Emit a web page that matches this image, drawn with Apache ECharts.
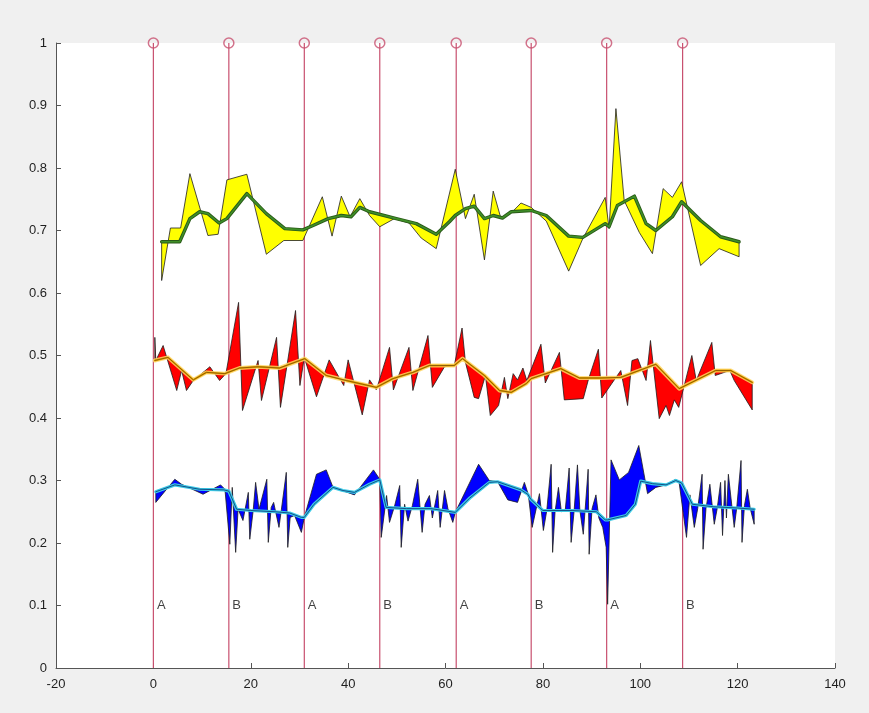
<!DOCTYPE html>
<html><head><meta charset="utf-8">
<script src="https://cdn.jsdelivr.net/npm/echarts@6/dist/echarts.min.js"></script>
<style>html,body{margin:0;padding:0;background:#f0f0f0}#chart{width:869px;height:713px}</style>
</head><body><div id="chart"></div>
<script>
// ---- axis settings ----
const xMin = -20, xMax = 140, xStep = 20;
const yMin = 0, yMax = 1, yStep = 0.1;

// ---- event markers ----
const markerX = [0, 15.5, 31.0, 46.5, 62.2, 77.6, 93.1, 108.7];
const markerLabels = ['A', 'B', 'A', 'B', 'A', 'B', 'A', 'B'];
const markerTop = 1;
const labelY = 0.1;

// ---- yellow group ----
const yellowRaw = [[1.7,0.620],[3.5,0.704],[5.6,0.704],[7.5,0.791],[11.2,0.692],[13.3,0.694],[15.1,0.781],[19.2,0.790],[23.2,0.662],[26.8,0.684],[30.7,0.684],[34.7,0.754],[36.7,0.691],[38.6,0.755],[40.4,0.722],[42.4,0.751],[44.4,0.724],[46.5,0.706],[49.5,0.719],[52.5,0.712],[55.0,0.688],[58.1,0.671],[62.0,0.798],[64.1,0.719],[65.9,0.758],[68.0,0.653],[69.8,0.763],[71.4,0.719],[73.5,0.728],[75.5,0.744],[77.6,0.737],[80.7,0.715],[85.3,0.635],[88.2,0.687],[92.8,0.753],[93.6,0.703],[95.0,0.895],[96.7,0.748],[99.8,0.697],[102.5,0.663],[104.7,0.767],[106.6,0.753],[108.5,0.778],[112.4,0.644],[116.2,0.671],[120.3,0.658]];
const yellowSmooth = [[1.7,0.682],[5.4,0.682],[7.5,0.719],[9.5,0.730],[11.2,0.727],[13.5,0.712],[15.1,0.719],[19.2,0.759],[23.2,0.727],[27.0,0.703],[30.7,0.701],[32.8,0.708],[35.9,0.719],[38.6,0.724],[40.6,0.722],[42.4,0.737],[44.4,0.730],[49.9,0.719],[54.0,0.711],[58.1,0.694],[60.8,0.714],[62.0,0.724],[64.1,0.735],[65.9,0.739],[68.0,0.719],[69.8,0.724],[71.7,0.720],[73.5,0.730],[77.6,0.732],[80.7,0.724],[85.3,0.691],[88.2,0.689],[92.8,0.711],[93.6,0.706],[95.3,0.740],[98.8,0.755],[101.2,0.711],[103.2,0.700],[106.6,0.722],[108.5,0.746],[112.4,0.716],[116.5,0.690],[120.3,0.682]];

// ---- red group ----
const redRaw = [[0.3,0.529],[0.5,0.492],[2.0,0.516],[4.8,0.444],[5.8,0.476],[6.8,0.444],[8.2,0.460],[11.6,0.482],[13.6,0.460],[14.9,0.471],[17.5,0.585],[18.3,0.412],[21.5,0.492],[22.2,0.428],[25.3,0.529],[26.1,0.417],[29.2,0.572],[30.1,0.452],[31.0,0.497],[33.5,0.434],[36.1,0.493],[39.1,0.452],[40.0,0.493],[42.9,0.405],[44.4,0.461],[45.8,0.445],[48.5,0.513],[49.3,0.445],[52.5,0.513],[53.3,0.444],[56.4,0.532],[57.3,0.449],[59.8,0.482],[61.8,0.484],[63.4,0.544],[64.1,0.489],[65.9,0.433],[66.8,0.431],[68.2,0.468],[69.2,0.404],[70.9,0.420],[72.1,0.465],[72.8,0.431],[73.9,0.471],[74.8,0.461],[75.9,0.480],[76.7,0.460],[79.6,0.518],[80.5,0.456],[83.4,0.505],[84.4,0.429],[88.3,0.431],[89.4,0.463],[91.4,0.510],[92.1,0.432],[96.0,0.476],[97.4,0.420],[98.3,0.492],[99.5,0.495],[101.2,0.460],[102.1,0.524],[103.9,0.399],[105.3,0.420],[106.0,0.404],[107.0,0.429],[107.9,0.417],[110.6,0.500],[111.5,0.460],[114.7,0.521],[115.4,0.468],[118.4,0.476],[119.3,0.460],[123.0,0.413]];
const redSmooth = [[0.3,0.492],[3.0,0.497],[8.2,0.461],[10.9,0.473],[14.7,0.471],[17.7,0.480],[21.5,0.482],[25.9,0.480],[31.1,0.495],[35.5,0.468],[39.6,0.460],[43.0,0.454],[45.8,0.449],[49.2,0.463],[53.3,0.473],[56.7,0.484],[61.8,0.484],[63.5,0.495],[68.0,0.468],[71.1,0.444],[73.5,0.441],[76.6,0.455],[77.6,0.463],[83.7,0.479],[87.5,0.464],[91.6,0.464],[96.0,0.465],[103.2,0.486],[108.0,0.447],[115.5,0.476],[118.6,0.476],[123.0,0.457]];

// ---- blue group ----
const blueRaw = [[0.5,0.265],[4.4,0.302],[5.8,0.294],[10.2,0.278],[13.8,0.293],[14.7,0.286],
[15.7,0.198],[16.2,0.289],[16.9,0.185],[17.4,0.254],[18.4,0.236],[19.5,0.281],[19.8,0.206],[20.5,0.252],[21.0,0.297],[21.7,0.254],[23.3,0.302],[23.6,0.201],[24.2,0.257],[24.7,0.265],[25.8,0.225],[26.3,0.254],[27.3,0.313],[27.6,0.193],[28.1,0.241],[29.0,0.244],[30.4,0.217],[31.0,0.241],
[33.5,0.310],[35.5,0.317],[36.9,0.289],[41.3,0.277],[45.2,0.317],[46.5,0.302],
[46.8,0.209],[47.9,0.276],[48.5,0.233],[49.5,0.258],[50.6,0.292],[50.9,0.193],[51.6,0.262],[52.3,0.235],[53.2,0.260],[54.3,0.302],[55.2,0.217],[55.8,0.262],[56.7,0.276],[57.3,0.240],[58.4,0.284],[58.9,0.225],[59.8,0.284],[60.5,0.255],[61.5,0.233],[62.0,0.249],
[66.8,0.326],[69.0,0.300],[70.7,0.298],[72.8,0.269],[74.8,0.265],[76.2,0.297],[77.0,0.278],
[77.8,0.225],[79.3,0.279],[80.1,0.220],[80.8,0.252],[81.7,0.326],[82.0,0.185],[82.5,0.250],[83.2,0.289],[83.8,0.250],[84.6,0.253],[85.4,0.320],[85.8,0.201],[86.4,0.250],[87.1,0.325],[87.6,0.252],[88.3,0.214],[89.3,0.318],[89.5,0.182],[90.1,0.255],[90.9,0.277],[91.5,0.240],[92.3,0.225],[93.0,0.193],[93.3,0.102],
[94.0,0.333],[95.7,0.301],[97.6,0.313],[99.7,0.356],[101.5,0.279],[103.2,0.289],[105.3,0.293],[107.3,0.302],[108.0,0.296],
[109.5,0.209],[110.2,0.277],[111.1,0.225],[111.8,0.255],[112.7,0.310],[112.9,0.190],[113.5,0.255],[114.3,0.294],[115.2,0.230],[115.8,0.255],[116.5,0.297],[116.9,0.212],[117.4,0.300],[117.7,0.240],[118.1,0.310],[119.3,0.225],[119.8,0.255],[120.7,0.332],[120.9,0.201],[121.4,0.260],[122.0,0.286],[122.6,0.255],[123.4,0.230]];
const blueSmooth = [[0.5,0.282],[4.4,0.293],[9.5,0.286],[14.5,0.285],[15.5,0.283],[17.1,0.254],[20.0,0.252],[25.0,0.250],[28.0,0.248],[30.4,0.241],[31.0,0.241],[33.0,0.262],[36.9,0.289],[38.9,0.284],[41.3,0.281],[44.4,0.294],[46.5,0.301],[47.8,0.257],[52.0,0.255],[57.0,0.255],[62.0,0.249],[65.0,0.272],[69.0,0.297],[70.7,0.298],[75.5,0.285],[76.9,0.278],[77.5,0.270],[80.0,0.252],[86.0,0.252],[91.0,0.250],[92.8,0.237],[93.3,0.237],[97.1,0.244],[99.0,0.262],[100.1,0.299],[102.5,0.295],[105.3,0.293],[107.3,0.300],[108.5,0.296],[110.7,0.262],[115.0,0.258],[120.0,0.256],[123.4,0.254]];

const FONT = '"Liberation Sans", Arial, sans-serif';
const MARK = '#c8506f';

function band(raw, smooth, fill) {
  return {
    type: 'custom', silent: true, z: 3, data: [[raw[0][0], raw[0][1]]],
    renderItem: function (params, api) {
      const pts = raw.map(p => api.coord(p)).concat(smooth.slice().reverse().map(p => api.coord(p)));
      return { type: 'polygon', shape: { points: pts }, style: { fill: fill, stroke: '#1e1e1e', lineWidth: 0.8, lineJoin: 'miter' } };
    }
  };
}
function smoothLine(data, color, width, z, opacity) {
  return { type: 'line', data: data, symbol: 'none', silent: true, z: z,
    lineStyle: { color: color, width: width, opacity: opacity == null ? 1 : opacity, join: 'round', cap: 'round' } };
}

const chart = echarts.init(document.getElementById('chart'), null, { renderer: 'canvas' });
chart.setOption({
  backgroundColor: '#f0f0f0',
  animation: false,
  grid: { left: 56, right: 34, top: 43, bottom: 45, show: true, backgroundColor: '#ffffff', borderWidth: 0 },
  xAxis: {
    type: 'value', min: xMin, max: xMax, interval: xStep,
    axisLine: { show: true, onZero: false, lineStyle: { color: '#555', width: 1 } },
    axisTick: { show: true, inside: true, length: 5, lineStyle: { color: '#555' } },
    axisLabel: { color: '#1f1f1f', fontSize: 13, fontFamily: FONT, margin: 10 },
    splitLine: { show: false }
  },
  yAxis: {
    type: 'value', min: yMin, max: yMax, interval: yStep,
    axisLine: { show: true, onZero: false, lineStyle: { color: '#555', width: 1 } },
    axisTick: { show: true, inside: true, length: 5, lineStyle: { color: '#555' } },
    axisLabel: { color: '#1f1f1f', fontSize: 13, fontFamily: FONT, margin: 9,
      formatter: v => String(parseFloat(v.toFixed(1))) },
    splitLine: { show: false }
  },
  series: [
    {
      type: 'custom', silent: true, z: 2, data: markerX.map(x => [x, markerTop]),
      renderItem: function (params, api) {
        const x = api.value(0);
        const p0 = api.coord([x, yMin]), p1 = api.coord([x, markerTop]);
        return { type: 'line', shape: { x1: p0[0], y1: p0[1], x2: p1[0], y2: p1[1] },
          style: { stroke: MARK, lineWidth: 1.2 } };
      }
    },
    band(yellowRaw, yellowSmooth, '#ffff00'),
    smoothLine(yellowSmooth, '#2a5a18', 3.4, 4),
    smoothLine(yellowSmooth, '#3f8f28', 1.6, 5),
    band(redRaw, redSmooth, '#ff0000'),
    smoothLine(redSmooth, '#ffd86a', 4, 4, 0.85),
    smoothLine(redSmooth, '#e6a400', 1.8, 5),
    smoothLine(redSmooth, '#5a3300', 0.6, 6),
    band(blueRaw, blueSmooth, '#0000ff'),
    smoothLine(blueSmooth, '#3ccbe6', 3.2, 4),
    smoothLine(blueSmooth, '#0b2f6e', 0.8, 5),
    {
      type: 'scatter', silent: true, z: 8, data: markerX.map(x => [x, markerTop]),
      symbol: 'circle', symbolSize: 10,
      itemStyle: { color: 'rgba(255,255,255,0)', borderColor: MARK, borderWidth: 1.5 }
    },
    {
      type: 'scatter', silent: true, z: 8,
      data: markerX.map((x, i) => ({ value: [x, labelY], name: markerLabels[i] })),
      symbolSize: 1, itemStyle: { color: 'rgba(0,0,0,0)' },
      label: { show: true, position: 'right', distance: 3, formatter: p => p.name,
        color: '#111', fontSize: 13, fontFamily: FONT }
    }
  ]
});
</script>
</body></html>
